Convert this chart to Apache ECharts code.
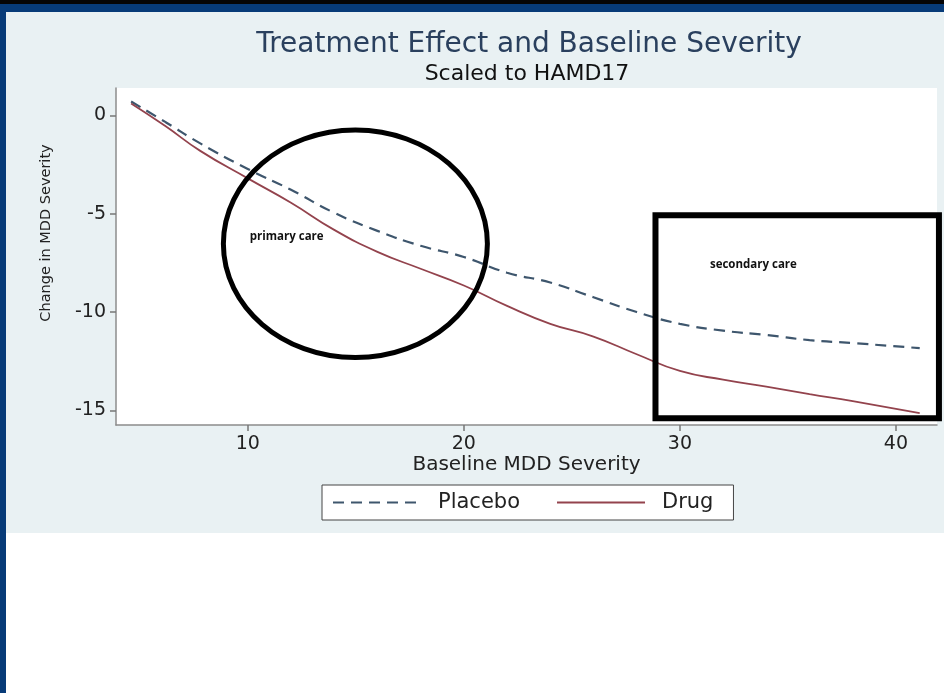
<!DOCTYPE html>
<html><head><meta charset="utf-8">
<script src="https://cdn.jsdelivr.net/npm/echarts@6/dist/echarts.min.js"></script>
<style>
html,body{margin:0;padding:0;background:#fff;}
#wrap{position:relative;width:944px;height:693px;overflow:hidden;background:#fff;}
#bgLight{position:absolute;left:6px;top:12px;width:938px;height:521px;background:#e9f1f3;}
#bandBlack{position:absolute;left:0;top:0;width:944px;height:4px;background:#050505;}
#bandNavy{position:absolute;left:0;top:4px;width:944px;height:8px;background:#073b78;}
#leftNavy{position:absolute;left:0;top:4px;width:6px;height:689px;background:#073b78;}
#chart{position:absolute;left:0;top:0;width:944px;height:693px;}
</style></head>
<body><div id="wrap"><div id="bgLight"></div><div id="bandBlack"></div><div id="bandNavy"></div><div id="leftNavy"></div><div id="chart"></div></div>
<script>
// ---- data ----
const baselineSeverity = [4.6, 6.2, 7.8, 10, 12, 14, 16, 18, 20, 22, 24, 26, 28, 30, 32, 34, 36, 38, 41.1];
const placebo = [0.71, -0.34, -1.42, -2.72, -3.78, -4.95, -5.87, -6.63, -7.2, -8.0, -8.5, -9.25, -10.0, -10.6, -10.95, -11.17, -11.43, -11.58, -11.84];
const drug    = [0.61, -0.55, -1.8, -3.2, -4.44, -5.82, -6.94, -7.8, -8.65, -9.69, -10.6, -11.25, -12.15, -13.0, -13.44, -13.8, -14.18, -14.54, -15.15];
const xTicks = [10, 20, 30, 40];
const yTicks = [0, -5, -10, -15];
const seriesNames = ['Placebo', 'Drug'];
// annotations (data coordinates)
const primaryCareEllipse = {cx: 14.98, cy: -6.53, rx: 6.11, ry: 5.79};
const secondaryCareBox = {x1: 28.87, x2: 41.99, y1: -5.08, y2: -15.41};
const primaryLabel = {x: 10.09, y: -6.17, text: 'primary care'};
const secondaryLabel = {x: 31.39, y: -7.6, text: 'secondary care'};

const FONT = 'DejaVu Sans';
const chart = echarts.init(document.getElementById('chart'));
const option = {
  backgroundColor: 'transparent',
  animation: false,
  title: [
    {text: 'Treatment Effect and Baseline Severity', left: 529, top: 31, textAlign: 'center', padding: 0,
     textStyle: {fontFamily: FONT, fontSize: 28, fontWeight: 'normal', color: '#2a405e'}},
    {text: 'Scaled to HAMD17', left: 527, top: 63, textAlign: 'center', padding: 0,
     textStyle: {fontFamily: FONT, fontSize: 22, fontWeight: 'normal', color: '#111'}}
  ],
  grid: {left: 116, right: 7, top: 88, bottom: 268, show: true, backgroundColor: '#fff', borderWidth: 0},
  xAxis: {
    type: 'value', min: 3.9, max: 41.9,
    name: 'Baseline MDD Severity', nameLocation: 'middle', nameGap: 30,
    nameTextStyle: {fontFamily: FONT, fontSize: 20, color: '#222'},
    axisLine: {show: true, onZero: false, lineStyle: {color: '#8c8c8c', width: 1.5}},
    axisTick: {show: true, length: 6, customValues: xTicks, lineStyle: {color: '#777', width: 1.5}},
    axisLabel: {customValues: xTicks, margin: 10, fontFamily: FONT, fontSize: 19, color: '#222'},
    splitLine: {show: false}
  },
  yAxis: {
    type: 'value', min: -15.75, max: 1.4,
    axisLine: {show: true, onZero: false, lineStyle: {color: '#8c8c8c', width: 1.5}},
    axisTick: {show: true, length: 6, customValues: yTicks, lineStyle: {color: '#777', width: 1.5}},
    axisLabel: {customValues: yTicks, margin: 10, fontFamily: FONT, fontSize: 19, color: '#222'},
    splitLine: {show: false}
  },
  legend: {
    left: 322, top: 485, orient: 'horizontal', data: seriesNames,
    itemWidth: 88, itemHeight: 14, itemGap: 36, padding: [7, 20, 7, 10],
    backgroundColor: '#fff', borderColor: '#444', borderWidth: 1,
    itemStyle: {color: 'rgba(0,0,0,0)', borderWidth: 0, opacity: 0},
    textStyle: {fontFamily: FONT, fontSize: 21, color: '#222', padding: [0, 0, 0, 12]}
  },
  series: [
    {name: seriesNames[0], type: 'line', smooth: true, symbol: 'none',
     data: baselineSeverity.map((x, i) => [x, placebo[i]]),
     lineStyle: {color: '#3e566d', width: 2.2, type: [11, 7]}, itemStyle: {color: '#3e566d'}},
    {name: seriesNames[1], type: 'line', smooth: true, symbol: 'none',
     data: baselineSeverity.map((x, i) => [x, drug[i]]),
     lineStyle: {color: '#93434d', width: 1.8}, itemStyle: {color: '#93434d'}}
  ]
};
chart.setOption(option);

function px(p) { return chart.convertToPixel({gridIndex: 0}, p); }
const ec = px([primaryCareEllipse.cx, primaryCareEllipse.cy]);
const erx = px([primaryCareEllipse.cx + primaryCareEllipse.rx, primaryCareEllipse.cy])[0] - ec[0];
const ery = px([primaryCareEllipse.cx, primaryCareEllipse.cy - primaryCareEllipse.ry])[1] - ec[1];
const b1 = px([secondaryCareBox.x1, secondaryCareBox.y1]);
const b2 = px([secondaryCareBox.x2, secondaryCareBox.y2]);
const pl = px([primaryLabel.x, primaryLabel.y]);
const sl = px([secondaryLabel.x, secondaryLabel.y]);

chart.setOption({
  graphic: [
    {type: 'text', x: 46, y: 233, rotation: Math.PI / 2, z: 10,
     style: {text: 'Change in MDD Severity', align: 'center', verticalAlign: 'middle',
             fontFamily: FONT, fontSize: 14.5, fill: '#222'}},
    {type: 'ellipse', z: 20, shape: {cx: ec[0], cy: ec[1], rx: erx, ry: ery},
     style: {fill: 'rgba(0,0,0,0)', stroke: '#000', lineWidth: 5}},
    {type: 'rect', z: 20, shape: {x: b1[0], y: b1[1], width: b2[0] - b1[0], height: b2[1] - b1[1]},
     style: {fill: 'rgba(0,0,0,0)', stroke: '#000', lineWidth: 6}},
    {type: 'text', z: 21, x: pl[0], y: pl[1],
     style: {text: primaryLabel.text, align: 'left', verticalAlign: 'middle',
             fontFamily: 'Open Sans', fontWeight: 'bold', fontSize: 11.5, fill: '#111'}},
    {type: 'text', z: 21, x: sl[0], y: sl[1],
     style: {text: secondaryLabel.text, align: 'left', verticalAlign: 'middle',
             fontFamily: 'Open Sans', fontWeight: 'bold', fontSize: 11.5, fill: '#111'}}
  ]
});
</script>
</body></html>
